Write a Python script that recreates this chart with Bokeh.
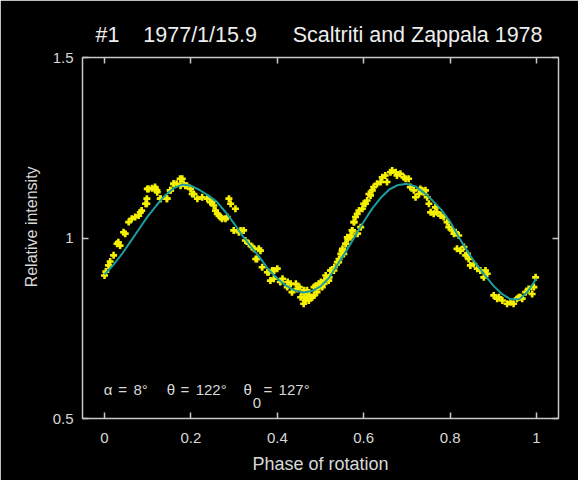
from bokeh.plotting import figure
from bokeh.models import Range1d, FixedTicker, LinearAxis, Label
from bokeh.embed import file_html
from bokeh.resources import INLINE

# Observed relative intensity vs. rotational phase
phase = [
    0.000, 0.003, 0.009, 0.013, 0.021, 0.029, 0.032, 0.036, 0.044, 0.048,
    0.056, 0.063, 0.071, 0.079, 0.083, 0.086, 0.098, 0.098, 0.102, 0.110,
    0.117, 0.121, 0.129, 0.144, 0.152, 0.160, 0.167, 0.175, 0.183, 0.187,
    0.099, 0.118, 0.122, 0.095, 0.130, 0.145, 0.153, 0.160, 0.176, 0.180,
    0.191, 0.199, 0.207, 0.215, 0.226, 0.238, 0.245, 0.253, 0.257, 0.265,
    0.272, 0.284, 0.288, 0.292, 0.303, 0.299, 0.311, 0.322, 0.326, 0.334,
    0.346, 0.361, 0.350, 0.365, 0.377, 0.388, 0.400, 0.392, 0.407, 0.423,
    0.434, 0.446, 0.461, 0.465, 0.477, 0.485, 0.492, 0.508, 0.515,
    0.203, 0.249, 0.261, 0.269, 0.280, 0.315, 0.342, 0.357, 0.353, 0.380,
    0.384, 0.393, 0.412, 0.424, 0.431, 0.443, 0.451, 0.462, 0.466, 0.474,
    0.481, 0.489, 0.497, 0.501, 0.509, 0.512, 0.520, 0.524, 0.532, 0.539,
    0.543, 0.547, 0.551, 0.559, 0.563, 0.570, 0.574, 0.578, 0.586, 0.593,
    0.461, 0.473, 0.485, 0.496, 0.519, 0.531, 0.542, 0.554, 0.454, 0.469,
    0.504, 0.523, 0.550, 0.558, 0.562, 0.569, 0.573, 0.577, 0.581, 0.585,
    0.589, 0.597, 0.600, 0.608, 0.612, 0.620, 0.623, 0.631, 0.639, 0.643,
    0.650, 0.654, 0.662, 0.666, 0.674, 0.677, 0.685, 0.693, 0.704, 0.708,
    0.716, 0.720, 0.728, 0.731, 0.739, 0.743, 0.747, 0.751, 0.755, 0.762,
    0.770, 0.778, 0.785, 0.793, 0.797, 0.805, 0.809, 0.816, 0.824, 0.832,
    0.840, 0.843, 0.855, 0.863, 0.870, 0.878, 0.886, 0.901, 0.913, 0.921,
    0.932, 0.940, 0.947, 0.955, 0.963, 0.975, 0.982, 0.990, 0.994, 0.998,
    0.604, 0.616, 0.697, 0.735, 0.766, 0.813, 0.820, 0.836, 0.847, 0.882,
    0.909, 0.959, 0.967,
]
intensity = [
    0.896, 0.907, 0.924, 0.935, 0.952, 0.984, 0.988, 0.979, 1.016, 1.012,
    1.044, 1.053, 1.058, 1.062, 1.071, 1.076, 1.095, 1.109, 1.136, 1.138,
    1.141, 1.132, 1.109, 1.109, 1.132, 1.150, 1.150, 1.164, 1.150, 1.145,
    1.136, 1.136, 1.127, 1.095, 1.109, 1.109, 1.132, 1.150, 1.145, 1.164,
    1.145, 1.136, 1.122, 1.109, 1.113, 1.109, 1.099, 1.090, 1.076, 1.062,
    1.053, 1.058, 1.109, 1.095, 1.081, 1.021, 1.016, 1.021, 0.993, 0.984,
    0.970, 0.965, 0.942, 0.919, 0.905, 0.910, 0.915, 0.887, 0.878, 0.864,
    0.850, 0.859, 0.845, 0.827, 0.836, 0.864, 0.850, 0.873, 0.887,
    1.122, 1.099, 1.067, 1.058, 1.053, 1.021, 0.975, 0.970, 0.942, 0.905,
    0.882, 0.910, 0.887, 0.878, 0.873, 0.873, 0.864, 0.855, 0.832, 0.841,
    0.836, 0.868, 0.864, 0.878, 0.882, 0.896, 0.891, 0.910, 0.919, 0.933,
    0.942, 0.956, 0.970, 0.984, 0.998, 1.007, 1.021, 1.044, 1.012, 1.030,
    0.818, 0.827, 0.841, 0.873, 0.882, 0.910, 0.933, 0.956, 0.836, 0.855,
    0.864, 0.910, 0.965, 0.984, 1.002, 1.002, 1.021, 1.044, 1.058, 1.067,
    1.076, 1.081, 1.095, 1.104, 1.122, 1.132, 1.141, 1.150, 1.155, 1.168,
    1.173, 1.155, 1.182, 1.187, 1.182, 1.173, 1.178, 1.168, 1.164, 1.141,
    1.132, 1.113, 1.122, 1.136, 1.127, 1.132, 1.113, 1.095, 1.071, 1.067,
    1.071, 1.062, 1.058, 1.044, 1.030, 1.021, 1.012, 0.970, 0.965, 0.975,
    0.956, 0.942, 0.928, 0.915, 0.910, 0.891, 0.901, 0.841, 0.836, 0.827,
    0.818, 0.822, 0.818, 0.832, 0.836, 0.850, 0.859, 0.845, 0.864, 0.891,
    1.095, 1.118, 1.164, 1.132, 1.085, 1.016, 1.007, 0.952, 0.924, 0.910,
    0.832, 0.836, 0.832,
]

# Model light curve
model_phase = [
    0.00, 0.02, 0.04, 0.06, 0.08, 0.10, 0.12, 0.14, 0.16, 0.18,
    0.20, 0.22, 0.24, 0.26, 0.28, 0.30, 0.32, 0.34, 0.36, 0.38,
    0.40, 0.42, 0.44, 0.46, 0.48, 0.50, 0.52, 0.54, 0.56, 0.58,
    0.60, 0.62, 0.64, 0.66, 0.68, 0.70, 0.72, 0.74, 0.76, 0.78,
    0.80, 0.82, 0.84, 0.86, 0.88, 0.90, 0.92, 0.94, 0.96, 0.98, 1.00,
]
model_intensity = [
    0.899, 0.925, 0.955, 0.990, 1.025, 1.060, 1.090, 1.118, 1.138, 1.148,
    1.145, 1.133, 1.118, 1.100, 1.072, 1.040, 1.005, 0.975, 0.945, 0.912,
    0.888, 0.868, 0.855, 0.849, 0.853, 0.866, 0.890, 0.928, 0.965, 1.005,
    1.045, 1.082, 1.112, 1.135, 1.147, 1.150, 1.143, 1.125, 1.103, 1.078,
    1.045, 1.003, 0.963, 0.928, 0.898, 0.868, 0.845, 0.830, 0.830, 0.852, 0.888,
]

x_ticks = [0, 0.2, 0.4, 0.6, 0.8, 1]
y_ticks = [0.5, 1, 1.5]
x_tick_labels = {0: "0", 0.2: "0.2", 0.4: "0.4", 0.6: "0.6", 0.8: "0.8", 1: "1"}
y_tick_labels = {0.5: "0.5", 1: "1", 1.5: "1.5"}

FONT = "Liberation Sans"
FG = "#d8d8d8"
FRAME = "#c8c8c8"
NB = "\u00a0"

p = figure(width=578, height=480, output_backend="svg", toolbar_location=None,
           x_range=Range1d(-0.051, 1.051), y_range=Range1d(0.5, 1.5),
           min_border_left=82, min_border_right=20, min_border_top=57,
           min_border_bottom=62)
p.background_fill_color = "black"
p.border_fill_color = "black"
p.outline_line_color = FRAME
p.outline_line_width = 1.5
p.grid.visible = False

# Header line
p.title.text = "#1" + NB * 4 + "1977/1/15.9" + NB * 6 + "Scaltriti and Zappala 1978"
p.title.text_font = FONT
p.title.text_font_size = "21.5px"
p.title.text_font_style = "normal"
p.title.text_color = "#eeeeee"
p.title.align = "left"
p.title.offset = 13
p.title.standoff = 22

for ax in (p.xaxis[0], p.yaxis[0]):
    ax.axis_line_color = None
    ax.major_tick_in = 6
    ax.major_tick_out = 0
    ax.minor_tick_line_color = None
    ax.major_tick_line_color = FRAME
    ax.major_tick_line_width = 1.5
    ax.major_label_text_color = FG
    ax.major_label_text_font = FONT
    ax.major_label_text_font_size = "15px"
    ax.axis_label_text_color = FG
    ax.axis_label_text_font = FONT
    ax.axis_label_text_font_style = "normal"

p.xaxis[0].ticker = FixedTicker(ticks=x_ticks)
p.xaxis[0].major_label_overrides = x_tick_labels
p.xaxis[0].major_label_standoff = 14
p.xaxis[0].axis_label = "Phase of rotation"
p.xaxis[0].axis_label_text_font_size = "18px"
p.xaxis[0].axis_label_standoff = 8

p.yaxis[0].ticker = FixedTicker(ticks=y_ticks)
p.yaxis[0].major_label_overrides = y_tick_labels
p.yaxis[0].major_label_standoff = 9
p.yaxis[0].axis_label = NB * 5 + "Relative intensity"
p.yaxis[0].axis_label_text_font_size = "16px"
p.yaxis[0].axis_label_standoff = 10

# Mirror ticks on the top and right edges (no labels)
mirror = dict(axis_line_color=None, major_tick_in=6, major_tick_out=0,
              major_tick_line_color=FRAME, major_tick_line_width=1.5,
              minor_tick_line_color=None, major_label_text_color=None,
              major_label_text_font_size="0px", major_label_standoff=0)
p.add_layout(LinearAxis(ticker=FixedTicker(ticks=x_ticks), **mirror), "above")
p.add_layout(LinearAxis(ticker=FixedTicker(ticks=y_ticks), **mirror), "right")

p.scatter(phase, intensity, marker="plus", size=7, color="#f4f000", line_width=0)
p.line(model_phase, model_intensity, line_color="#1c9c9c", line_width=2)

# Geometry of the observation: aspect angle, and the two pole angles
ann_y = 0.580
tokens = [(-0.002, "\u03b1"), (0.032, "="), (0.067, "8\u00b0"),
          (0.144, "\u03b8"), (0.176, "="), (0.211, "122\u00b0"),
          (0.322, "\u03b8"), (0.368, "="), (0.403, "127\u00b0")]
for tx, txt in tokens:
    p.add_layout(Label(x=tx, y=ann_y, text=txt, text_font=FONT, text_font_size="15px",
                       text_color=FG, text_baseline="middle"))
p.add_layout(Label(x=0.343, y=ann_y - 0.036, text="0", text_font=FONT,
                   text_font_size="15px", text_color=FG, text_baseline="middle"))

open("out.html", "w").write(file_html(p, INLINE))
